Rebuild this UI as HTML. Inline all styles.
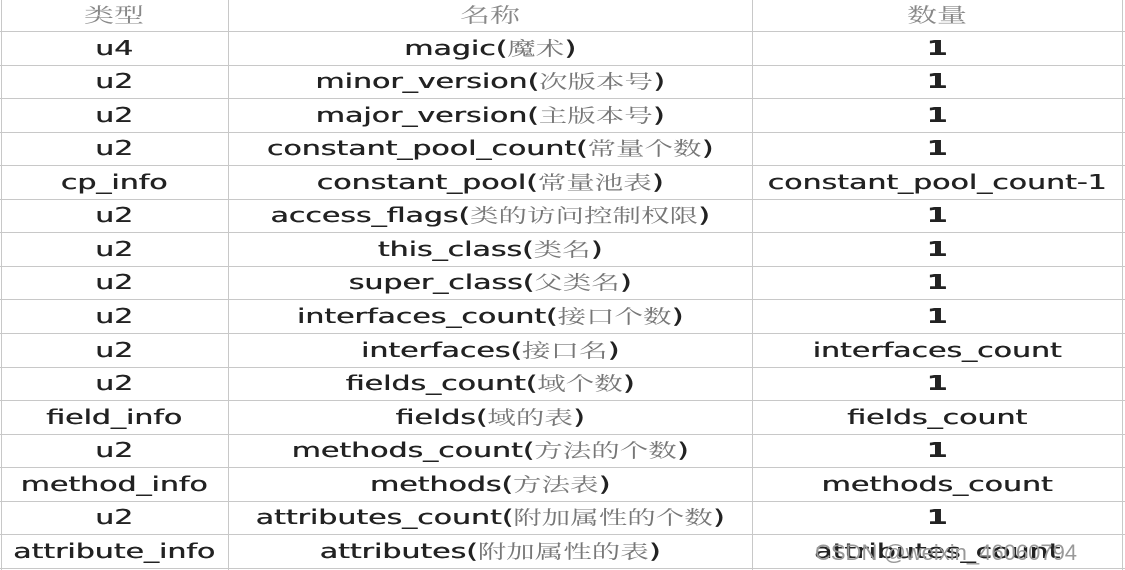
<!DOCTYPE html>
<html><head><meta charset="utf-8"><style>
html,body{margin:0;padding:0;background:#fff;}
#t{position:relative;width:1125px;height:570px;overflow:hidden;background:#fff;}
.h{position:absolute;left:0;width:1125px;height:1px;background:#c8c8c8;}
.v{position:absolute;top:0;width:1px;height:570px;background:#c8c8c8;}
.c{position:absolute;white-space:nowrap;font-family:"DejaVu Sans","Liberation Sans",sans-serif;font-size:20px;color:#222;line-height:24px;transform:translateX(-50%) scaleX(1.5);text-shadow:0.4px 0 0 #222;}
.c i{font-style:normal;font-family:"Noto Serif CJK SC","Liberation Serif",serif;color:#777;font-size:19px;text-shadow:none;}
.hd{color:#888;font-family:"Noto Serif CJK SC",serif;text-shadow:none;}
.wm{position:absolute;left:815px;top:540px;font-family:"Liberation Sans",sans-serif;font-size:22px;color:#999;white-space:nowrap;}
</style></head><body><div id="t">
<div class="v" style="left:1px"></div><div class="v" style="left:228px"></div><div class="v" style="left:752px"></div><div class="v" style="left:1122px"></div>
<div id="rows"></div>
<script>
var rows=[["类型","名称","数量",1],["u4","magic(<i>魔术</i>)","1"],["u2","minor_version(<i>次版本号</i>)","1"],["u2","major_version(<i>主版本号</i>)","1"],["u2","constant_pool_count(<i>常量个数</i>)","1"],["cp_info","constant_pool(<i>常量池表</i>)","constant_pool_count-1"],["u2","access_flags(<i>类的访问控制权限</i>)","1"],["u2","this_class(<i>类名</i>)","1"],["u2","super_class(<i>父类名</i>)","1"],["u2","interfaces_count(<i>接口个数</i>)","1"],["u2","interfaces(<i>接口名</i>)","interfaces_count"],["u2","fields_count(<i>域个数</i>)","1"],["field_info","fields(<i>域的表</i>)","fields_count"],["u2","methods_count(<i>方法的个数</i>)","1"],["method_info","methods(<i>方法表</i>)","methods_count"],["u2","attributes_count(<i>附加属性的个数</i>)","1"],["attribute_info","attributes(<i>附加属性的表</i>)","attributes_count"]];
var h="";var xs=[114,490,937];
for(var k=0;k<rows.length;k++){var cy=14+33.56*k;
 if(k>0)h+='<div class="h" style="top:'+Math.round(31+33.56*(k-1))+'px"></div>';
 for(var j=0;j<3;j++){var s=rows[k][j];var cls=rows[k][3]?'c hd':'c';var w=(k==0)?'font-weight:normal;color:#888;':(j==2&&s=="1"?'font-weight:bold;':'');
 h+='<div class="'+cls+'" style="left:'+xs[j]+'px;top:'+Math.round(cy-12)+'px;'+w+'">'+s+'</div>';}}
h+='<div class="h" style="top:568px"></div>';
document.getElementById("rows").innerHTML=h;
</script>
<div class="wm">CSDN @weixin_46060794</div>
</div></body></html>
